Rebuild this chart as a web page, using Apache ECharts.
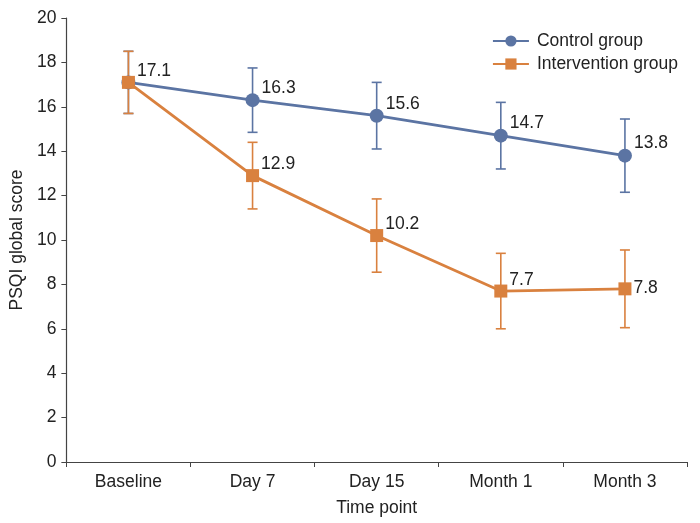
<!DOCTYPE html>
<html>
<head>
<meta charset="utf-8">
<script src="https://cdn.jsdelivr.net/npm/echarts@6/dist/echarts.min.js"></script>
<style>html,body{margin:0;padding:0;background:#fff;}#c{width:700px;height:523px;}</style>
</head>
<body>
<div id="c"></div>
<script>
const categories = ['Baseline', 'Day 7', 'Day 15', 'Month 1', 'Month 3'];
const controlMean = [17.1, 16.3, 15.6, 14.7, 13.8];
const controlErr = [1.4, 1.45, 1.5, 1.5, 1.65];
const interventionMean = [17.1, 12.9, 10.2, 7.7, 7.8];
const interventionErr = [1.4, 1.5, 1.65, 1.7, 1.75];
const yTicks = [0, 2, 4, 6, 8, 10, 12, 14, 16, 18, 20];

const BLUE = '#5b74a3';
const ORANGE = '#d9813f';
const FONT = 'Liberation Sans, Arial, Helvetica, sans-serif';
const FS = 17.5;

function errSeries(name, mean, err, color) {
  return {
    type: 'custom',
    name: name + ' err',
    z: 1,
    silent: true,
    data: mean.map((m, i) => [i, m - err[i], m + err[i]]),
    renderItem: function (params, api) {
      const x = api.value(0);
      const lo = api.coord([x, api.value(1)]);
      const hi = api.coord([x, api.value(2)]);
      const w = 5;
      const st = { stroke: color, lineWidth: 1.6 };
      return {
        type: 'group',
        children: [
          { type: 'line', shape: { x1: lo[0], y1: lo[1], x2: hi[0], y2: hi[1] }, style: st },
          { type: 'line', shape: { x1: lo[0] - w, y1: lo[1], x2: lo[0] + w, y2: lo[1] }, style: st },
          { type: 'line', shape: { x1: hi[0] - w, y1: hi[1], x2: hi[0] + w, y2: hi[1] }, style: st }
        ]
      };
    }
  };
}

function lineData(mean, offsets, hideFirst) {
  return mean.map((v, i) => ({ value: v, label: { offset: offsets[i], show: !(hideFirst && i === 0) } }));
}
const ctrlOffsets = categories.map(() => [0, -12]);
const intOffsets = categories.map((c, i) => i === categories.length - 1 ? [0, -1] : [0, -11]);

const chart = echarts.init(document.getElementById('c'), null, { renderer: 'canvas' });
chart.setOption({
  animation: false,
  textStyle: { fontFamily: FONT },
  grid: { left: 64, right: 13, top: 18, bottom: 61, containLabel: false },
  legend: {
    right: 17, top: 27, orient: 'vertical', itemGap: 5,
    itemWidth: 36, itemHeight: 14,
    textStyle: { fontSize: FS, color: '#222', fontFamily: FONT, padding: [0, 0, 0, 3] },
    data: ['Control group', 'Intervention group']
  },
  xAxis: {
    type: 'category', data: categories, boundaryGap: true,
    name: 'Time point', nameLocation: 'middle', nameGap: 37,
    nameTextStyle: { fontSize: FS, color: '#222' },
    axisLine: { lineStyle: { color: '#444', width: 1.2 } },
    axisTick: { show: true, length: 5, lineStyle: { color: '#444' } },
    axisLabel: { fontSize: FS, color: '#222', margin: 11 }
  },
  yAxis: {
    type: 'value', min: yTicks[0], max: yTicks[yTicks.length - 1], interval: 2,
    name: 'PSQI global score', nameLocation: 'middle', nameGap: 36,
    nameTextStyle: { fontSize: FS, color: '#222' },
    axisLine: { show: true, lineStyle: { color: '#444', width: 1.2 } },
    axisTick: { show: true, length: 5, lineStyle: { color: '#444' } },
    axisLabel: { fontSize: FS, color: '#222', margin: 10 },
    splitLine: { show: false }
  },
  series: [
    errSeries('Control group', controlMean, controlErr, BLUE),
    errSeries('Intervention group', interventionMean, interventionErr, ORANGE),
    {
      type: 'line', name: 'Control group', z: 3,
      data: lineData(controlMean, ctrlOffsets, true),
      symbol: 'circle', symbolSize: 14,
      lineStyle: { color: BLUE, width: 2.8 },
      itemStyle: { color: BLUE },
      label: { show: true, position: 'right', distance: 2, fontSize: FS, color: '#222', formatter: p => p.value.toFixed(1) }
    },
    {
      type: 'line', name: 'Intervention group', z: 4,
      data: lineData(interventionMean, intOffsets, false),
      symbol: 'rect', symbolSize: 13,
      lineStyle: { color: ORANGE, width: 2.8 },
      itemStyle: { color: ORANGE },
      label: { show: true, position: 'right', distance: 2, fontSize: FS, color: '#222', formatter: p => p.value.toFixed(1) }
    }
  ]
});
</script>
</body>
</html>
